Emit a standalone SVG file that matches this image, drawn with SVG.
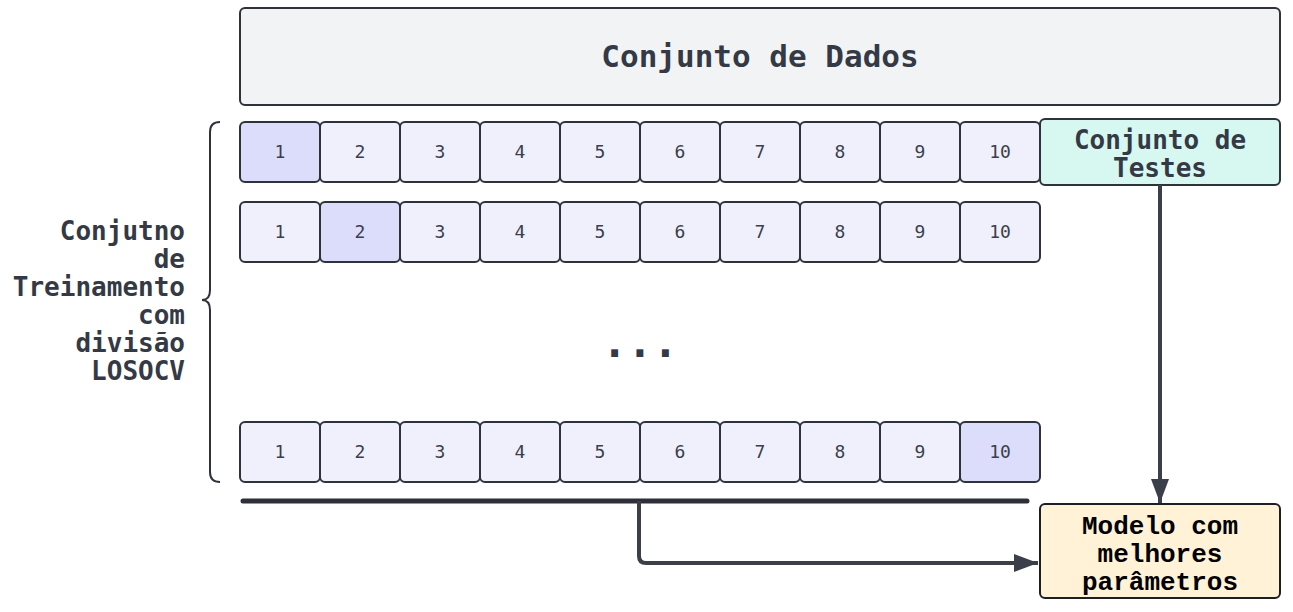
<svg xmlns="http://www.w3.org/2000/svg" width="1293" height="612" viewBox="0 0 1293 612">
<defs>
<style>
.cell{fill:#f0f0fd;stroke:#2e323a;stroke-width:2}
.hl{fill:#dcdcfb}
.num{font-family:"DejaVu Sans Mono","Liberation Mono",monospace;font-size:18px;fill:#3a3f4a;text-anchor:middle}
.lbl{font-family:"DejaVu Sans Mono","Liberation Mono",monospace;font-weight:bold;fill:#343a45}
.conn{fill:none;stroke:#3a3f4a;stroke-width:4;stroke-linejoin:round}
</style>
<marker id="ah2" viewBox="0 0 24 18" refX="24" refY="9" markerWidth="24" markerHeight="18" markerUnits="userSpaceOnUse" orient="auto">
<path d="M0,0 L24,9 L0,18 z" fill="#3a3f4a"/>
</marker>
</defs>
<g id="dados">
<rect x="240" y="8" width="1040" height="97" rx="5" fill="#f2f3f5" stroke="#2e323a" stroke-width="2"/>
<text class="lbl" x="760" y="67" font-size="31" text-anchor="middle">Conjunto de Dados</text>
</g>
<g id="row1">
<rect class="cell hl" x="240" y="122" width="80" height="60" rx="5"/>
<rect class="cell" x="320" y="122" width="80" height="60" rx="5"/>
<rect class="cell" x="400" y="122" width="80" height="60" rx="5"/>
<rect class="cell" x="480" y="122" width="80" height="60" rx="5"/>
<rect class="cell" x="560" y="122" width="80" height="60" rx="5"/>
<rect class="cell" x="640" y="122" width="80" height="60" rx="5"/>
<rect class="cell" x="720" y="122" width="80" height="60" rx="5"/>
<rect class="cell" x="800" y="122" width="80" height="60" rx="5"/>
<rect class="cell" x="880" y="122" width="80" height="60" rx="5"/>
<rect class="cell" x="960" y="122" width="80" height="60" rx="5"/>
<text class="num" x="280" y="158">1</text><text class="num" x="360" y="158">2</text><text class="num" x="440" y="158">3</text><text class="num" x="520" y="158">4</text><text class="num" x="600" y="158">5</text><text class="num" x="680" y="158">6</text><text class="num" x="760" y="158">7</text><text class="num" x="840" y="158">8</text><text class="num" x="920" y="158">9</text><text class="num" x="1000" y="158">10</text>
</g>
<g id="row2">
<rect class="cell" x="240" y="202" width="80" height="60" rx="5"/>
<rect class="cell hl" x="320" y="202" width="80" height="60" rx="5"/>
<rect class="cell" x="400" y="202" width="80" height="60" rx="5"/>
<rect class="cell" x="480" y="202" width="80" height="60" rx="5"/>
<rect class="cell" x="560" y="202" width="80" height="60" rx="5"/>
<rect class="cell" x="640" y="202" width="80" height="60" rx="5"/>
<rect class="cell" x="720" y="202" width="80" height="60" rx="5"/>
<rect class="cell" x="800" y="202" width="80" height="60" rx="5"/>
<rect class="cell" x="880" y="202" width="80" height="60" rx="5"/>
<rect class="cell" x="960" y="202" width="80" height="60" rx="5"/>
<text class="num" x="280" y="238">1</text><text class="num" x="360" y="238">2</text><text class="num" x="440" y="238">3</text><text class="num" x="520" y="238">4</text><text class="num" x="600" y="238">5</text><text class="num" x="680" y="238">6</text><text class="num" x="760" y="238">7</text><text class="num" x="840" y="238">8</text><text class="num" x="920" y="238">9</text><text class="num" x="1000" y="238">10</text>
</g>
<g id="dots">
<text class="lbl" x="640" y="357" font-size="42" text-anchor="middle">...</text>
</g>
<g id="row10">
<rect class="cell" x="240" y="422" width="80" height="60" rx="5"/>
<rect class="cell" x="320" y="422" width="80" height="60" rx="5"/>
<rect class="cell" x="400" y="422" width="80" height="60" rx="5"/>
<rect class="cell" x="480" y="422" width="80" height="60" rx="5"/>
<rect class="cell" x="560" y="422" width="80" height="60" rx="5"/>
<rect class="cell" x="640" y="422" width="80" height="60" rx="5"/>
<rect class="cell" x="720" y="422" width="80" height="60" rx="5"/>
<rect class="cell" x="800" y="422" width="80" height="60" rx="5"/>
<rect class="cell" x="880" y="422" width="80" height="60" rx="5"/>
<rect class="cell hl" x="960" y="422" width="80" height="60" rx="5"/>
<text class="num" x="280" y="458">1</text><text class="num" x="360" y="458">2</text><text class="num" x="440" y="458">3</text><text class="num" x="520" y="458">4</text><text class="num" x="600" y="458">5</text><text class="num" x="680" y="458">6</text><text class="num" x="760" y="458">7</text><text class="num" x="840" y="458">8</text><text class="num" x="920" y="458">9</text><text class="num" x="1000" y="458">10</text>
</g>
<g id="testes">
<rect x="1040" y="119" width="240" height="66" rx="5" fill="#d6f8f0" stroke="#2e323a" stroke-width="2"/>
<text class="lbl" x="1160" y="149" font-size="26" text-anchor="middle">Conjunto de</text>
<text class="lbl" x="1160" y="177" font-size="26" text-anchor="middle">Testes</text>
</g>
<g id="treino">
<path d="M220,122 Q210,122 210,132 L210,290 Q210,300 202,300 Q210,300 210,310 L210,472 Q210,482 220,482" fill="none" stroke="#2e323a" stroke-width="2"/>
<text class="lbl" font-size="26" text-anchor="end"><tspan x="185" y="240">Conjutno</tspan><tspan x="185" y="268">de</tspan><tspan x="185" y="296">Treinamento</tspan><tspan x="185" y="324">com</tspan><tspan x="185" y="352">divisão</tspan><tspan x="185" y="380">LOSOCV</tspan></text>
</g>
<g id="modelo">
<rect x="1040" y="504" width="240" height="94" rx="5" fill="#fff2d6" stroke="#1e1f22" stroke-width="2"/>
<text font-family="Liberation Mono, monospace" font-weight="bold" font-size="26" fill="#000" text-anchor="middle"><tspan x="1160" y="534">Modelo com</tspan><tspan x="1160" y="562">melhores</tspan><tspan x="1160" y="590">parâmetros</tspan></text>
</g>
<g id="connectors">
<line x1="243" y1="501" x2="1027" y2="501" stroke="#2d3038" stroke-width="5" stroke-linecap="round"/>
<path class="conn" d="M639,501 L639,556 Q639,563 646,563 L1038,563" marker-end="url(#ah2)"/>
<path class="conn" d="M1160,185 L1160,503" marker-end="url(#ah2)"/>
</g>
</svg>
